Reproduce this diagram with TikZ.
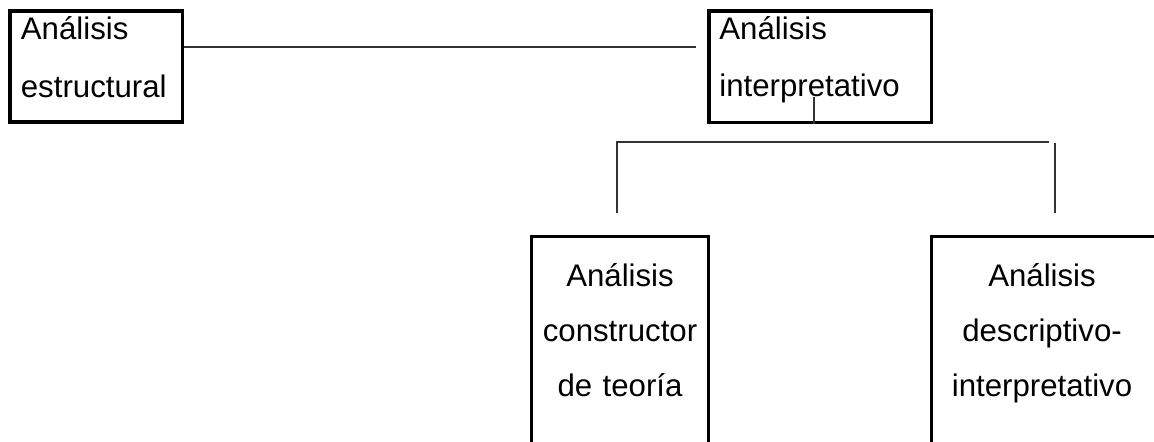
\documentclass[tikz,border=0pt]{standalone}
\usepackage{fontspec}
\setmainfont{Liberation Sans}
\usepackage{tikz}
\usetikzlibrary{fit}

\begin{document}
\begin{tikzpicture}[
  x=0.5pt, y=-0.5pt,
  box/.style  = {draw=black, line width=1.7pt, inner sep=0pt},
  txt/.style  = {inner sep=0pt, text width=100mm,
                 font=\fontsize{15.6}{27.5}\selectfont},
  toptxt/.style = {txt, align=left, anchor=base west,
                 font=\fontsize{15.6}{28.7}\selectfont},
  subtxt/.style = {txt, align=center, anchor=base},
  link/.style = {draw=black!80, line width=0.6pt},
]
  \clip (0,0) rectangle (1154,442);

  % ---- upper row --------------------------------------------
  \node[box, fit={(10,11) (182.5,122)}]   (estr)   {};
  \node[box, fit={(709,11) (931.7,122.3)}] (interp) {};
  \node[toptxt] (estrtxt)   at ( 20.5, 40) {Análisis\\estructural};
  \node[toptxt] (interptxt) at (719,   39.3) {Análisis\\interpretativo};

  % ---- lower row --------------------------------------------
  \node[box, fit={(531.3,236.7) (708.3,470)}] (const) {};
  \node[box, fit={(931.7,236.7) (1165,470)}]  (descr) {};
  \node[subtxt] (consttxt) at ( 620, 286.7) {Análisis\\constructor\\de teoría};
  \node[subtxt] (descrtxt) at (1042, 286.7) {Análisis\\descriptivo-\\interpretativo};

  % ---- connectors -------------------------------------------
  \coordinate (h1) at (696, 47);
  \coordinate (v1) at (814, 97);
  \coordinate (bl) at (617, 213);
  \coordinate (br) at (1049, 142);
  \coordinate (rt) at (1055, 143);

  \draw[link] (h1 -| estr.east) -- (h1);
  \draw[link] (v1) -- (v1 |- interp.south);
  \draw[link] (bl) |- (br);
  \draw[link] (rt) -- (rt |- bl);

\end{tikzpicture}
\end{document}
